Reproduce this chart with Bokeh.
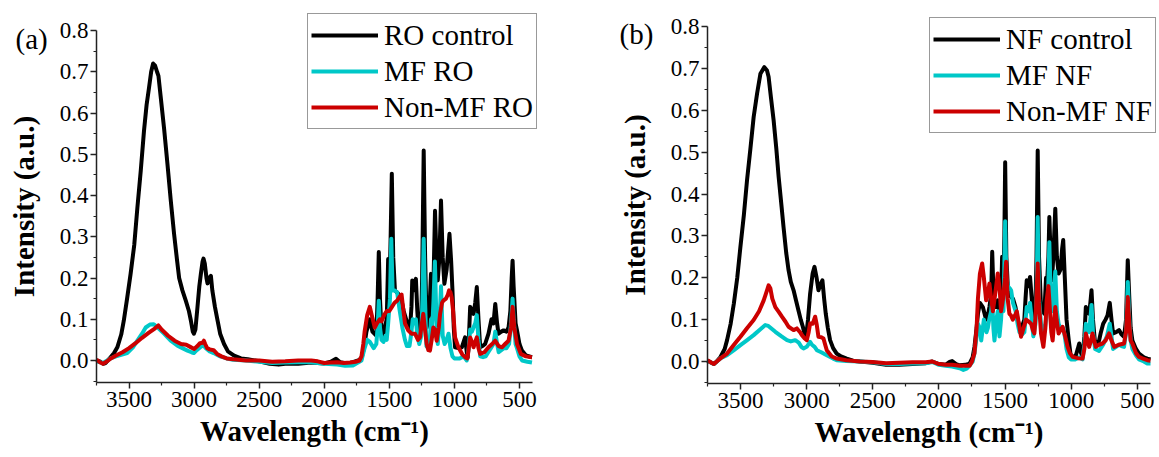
from bokeh.plotting import figure
from bokeh.layouts import row
from bokeh.models import Range1d, FixedTicker, PrintfTickFormatter, Legend, LegendItem, Label
from bokeh.embed import file_html
from bokeh.resources import INLINE

# ---------------- data: panel (a) ----------------
ro_control_wn = [3750, 3720, 3700, 3680, 3642, 3615, 3590, 3560, 3540, 3515, 3488, 3460, 3436, 3410, 3385, 3365, 3347, 3330, 3315, 3300, 3285, 3274, 3257, 3230, 3205, 3180, 3154, 3130, 3115, 3090, 3064, 3040, 3025, 3010, 3002, 2990, 2974, 2960, 2948, 2935, 2928, 2918, 2905, 2897, 2885, 2871, 2860, 2840, 2820, 2800, 2770, 2740, 2693, 2640, 2588, 2500, 2420, 2350, 2300, 2200, 2100, 2000, 1950, 1910, 1880, 1820, 1780, 1740, 1714, 1695, 1676, 1650, 1630, 1600, 1590, 1581, 1572, 1560, 1545, 1535, 1520, 1509, 1500, 1490, 1481, 1470, 1457, 1432, 1406, 1390, 1368, 1342, 1330, 1324, 1316, 1308, 1296, 1285, 1277, 1257, 1248, 1236, 1225, 1213, 1193, 1180, 1170, 1160, 1149, 1138, 1128, 1115, 1103, 1090, 1077, 1060, 1038, 1025, 1015, 1005, 995, 970, 943, 918, 905, 897, 888, 879, 866, 853, 840, 828, 815, 802, 785, 764, 738, 715, 700, 686, 672, 661, 640, 622, 600, 584, 570, 560, 553, 545, 530, 519, 500, 481, 450, 404]
ro_control_int = [0.000, -0.003, -0.008, -0.006, 0.008, 0.018, 0.032, 0.063, 0.097, 0.15, 0.21, 0.28, 0.37, 0.46, 0.557, 0.62, 0.66, 0.70, 0.72, 0.715, 0.70, 0.69, 0.64, 0.56, 0.477, 0.39, 0.307, 0.24, 0.20, 0.17, 0.145, 0.12, 0.097, 0.07, 0.065, 0.075, 0.13, 0.18, 0.21, 0.24, 0.247, 0.235, 0.20, 0.187, 0.20, 0.205, 0.17, 0.13, 0.097, 0.065, 0.04, 0.022, 0.012, 0.005, 0.003, -0.002, -0.008, -0.01, -0.008, -0.008, -0.005, -0.007, -0.003, 0.004, -0.004, -0.007, -0.004, 0.0, 0.005, 0.03, 0.07, 0.10, 0.07, 0.06, 0.15, 0.263, 0.15, 0.073, 0.06, 0.08, 0.10, 0.246, 0.15, 0.30, 0.453, 0.25, 0.17, 0.162, 0.145, 0.12, 0.097, 0.073, 0.13, 0.194, 0.17, 0.186, 0.198, 0.12, 0.08, 0.065, 0.20, 0.509, 0.25, 0.08, 0.113, 0.21, 0.12, 0.20, 0.363, 0.25, 0.194, 0.25, 0.388, 0.25, 0.186, 0.22, 0.307, 0.24, 0.17, 0.08, 0.032, 0.03, 0.032, 0.056, 0.02, 0.008, 0.06, 0.13, 0.12, 0.113, 0.14, 0.178, 0.10, 0.032, 0.035, 0.04, 0.065, 0.10, 0.09, 0.137, 0.09, 0.065, 0.07, 0.073, 0.07, 0.08, 0.12, 0.20, 0.242, 0.18, 0.09, 0.073, 0.04, 0.024, 0.012, 0.008]

mf_ro_wn = [3750, 3700, 3642, 3600, 3514, 3470, 3436, 3400, 3372, 3340, 3310, 3280, 3231, 3180, 3128, 3090, 3051, 3020, 3002, 2980, 2950, 2930, 2910, 2880, 2850, 2800, 2750, 2700, 2600, 2500, 2400, 2300, 2200, 2100, 2000, 1900, 1840, 1780, 1740, 1714, 1690, 1670, 1650, 1620, 1600, 1590, 1581, 1572, 1560, 1545, 1530, 1520, 1509, 1495, 1485, 1475, 1460, 1440, 1420, 1400, 1380, 1365, 1345, 1330, 1320, 1305, 1296, 1285, 1270, 1255, 1245, 1236, 1226, 1215, 1200, 1190, 1180, 1170, 1160, 1150, 1140, 1128, 1115, 1103, 1090, 1075, 1060, 1045, 1030, 1015, 1000, 960, 930, 905, 890, 879, 866, 853, 840, 828, 815, 802, 780, 760, 740, 720, 700, 686, 672, 660, 640, 620, 600, 580, 565, 553, 545, 530, 519, 500, 480, 440, 404]
mf_ro_int = [-0.002, -0.006, 0.005, 0.01, 0.018, 0.032, 0.048, 0.065, 0.08, 0.087, 0.088, 0.08, 0.065, 0.048, 0.036, 0.03, 0.024, 0.02, 0.018, 0.025, 0.033, 0.037, 0.03, 0.022, 0.018, 0.01, 0.005, 0.002, 0.0, -0.003, -0.006, -0.005, -0.004, -0.004, -0.008, -0.01, -0.013, -0.012, -0.005, 0.0, 0.03, 0.05, 0.045, 0.03, 0.04, 0.08, 0.145, 0.08, 0.05, 0.045, 0.06, 0.05, 0.09, 0.15, 0.295, 0.17, 0.17, 0.165, 0.12, 0.08, 0.05, 0.035, 0.035, 0.07, 0.10, 0.09, 0.10, 0.06, 0.04, 0.06, 0.15, 0.295, 0.15, 0.035, 0.03, 0.04, 0.10, 0.08, 0.15, 0.24, 0.12, 0.04, 0.09, 0.18, 0.06, 0.04, 0.05, 0.065, 0.03, 0.01, 0.005, 0.005, 0.01, 0.0, 0.03, 0.075, 0.07, 0.08, 0.09, 0.11, 0.05, 0.01, 0.008, 0.01, 0.02, 0.03, 0.04, 0.07, 0.04, 0.02, 0.025, 0.03, 0.03, 0.04, 0.09, 0.15, 0.10, 0.04, 0.03, 0.01, 0.0, -0.003, -0.005]

nonmf_ro_wn = [3750, 3720, 3700, 3670, 3640, 3600, 3550, 3500, 3450, 3400, 3350, 3300, 3275, 3250, 3200, 3150, 3100, 3060, 3030, 3000, 2975, 2955, 2935, 2925, 2915, 2900, 2880, 2850, 2820, 2790, 2750, 2700, 2600, 2500, 2400, 2300, 2200, 2100, 2050, 2000, 1950, 1900, 1850, 1800, 1760, 1730, 1714, 1700, 1690, 1670, 1650, 1635, 1612, 1595, 1573, 1560, 1540, 1520, 1500, 1480, 1460, 1440, 1420, 1406, 1395, 1380, 1355, 1330, 1303, 1280, 1265, 1250, 1239, 1228, 1213, 1200, 1188, 1175, 1162, 1150, 1136, 1120, 1110, 1095, 1085, 1065, 1050, 1041, 1030, 1021, 1010, 995, 969, 940, 918, 900, 890, 879, 865, 853, 840, 828, 815, 802, 770, 738, 710, 686, 660, 635, 610, 584, 565, 553, 540, 519, 490, 450, 404]
nonmf_ro_int = [0.002, -0.005, -0.008, -0.002, 0.005, 0.012, 0.02, 0.03, 0.042, 0.055, 0.067, 0.078, 0.085, 0.075, 0.06, 0.048, 0.04, 0.038, 0.033, 0.028, 0.035, 0.042, 0.043, 0.048, 0.04, 0.03, 0.027, 0.025, 0.015, 0.01, 0.005, 0.003, 0.0, 0.0, -0.003, -0.002, 0.0, 0.0, -0.002, -0.006, -0.005, -0.004, -0.006, -0.005, -0.003, 0.0, 0.01, 0.04, 0.07, 0.11, 0.13, 0.11, 0.08, 0.09, 0.10, 0.095, 0.11, 0.12, 0.12, 0.13, 0.14, 0.145, 0.155, 0.16, 0.13, 0.09, 0.073, 0.065, 0.065, 0.05, 0.056, 0.09, 0.113, 0.08, 0.04, 0.025, 0.024, 0.05, 0.08, 0.075, 0.048, 0.08, 0.113, 0.14, 0.145, 0.15, 0.16, 0.17, 0.165, 0.153, 0.12, 0.056, 0.032, 0.015, 0.008, 0.005, 0.03, 0.056, 0.045, 0.032, 0.045, 0.056, 0.03, 0.016, 0.02, 0.032, 0.04, 0.048, 0.035, 0.032, 0.04, 0.048, 0.08, 0.13, 0.08, 0.04, 0.016, 0.01, 0.008]

# ---------------- data: panel (b) ----------------
nf_control_wn = [3750, 3720, 3702, 3680, 3652, 3620, 3602, 3575, 3551, 3525, 3501, 3475, 3451, 3425, 3401, 3375, 3350, 3320, 3300, 3288, 3270, 3250, 3230, 3212, 3190, 3175, 3155, 3137, 3120, 3099, 3080, 3062, 3045, 3029, 3015, 3004, 2990, 2974, 2955, 2941, 2925, 2911, 2895, 2881, 2868, 2856, 2840, 2823, 2800, 2773, 2740, 2697, 2650, 2597, 2500, 2400, 2300, 2200, 2100, 2050, 2000, 1950, 1919, 1900, 1870, 1843, 1800, 1768, 1745, 1731, 1715, 1705, 1690, 1668, 1643, 1630, 1618, 1605, 1597, 1588, 1580, 1565, 1555, 1542, 1530, 1522, 1512, 1505, 1499, 1490, 1479, 1465, 1454, 1440, 1421, 1405, 1391, 1370, 1354, 1345, 1336, 1322, 1311, 1298, 1286, 1270, 1262, 1253, 1243, 1228, 1215, 1203, 1190, 1180, 1172, 1165, 1155, 1145, 1135, 1120, 1108, 1095, 1080, 1068, 1060, 1048, 1035, 1018, 1002, 985, 964, 950, 939, 925, 914, 900, 889, 875, 864, 855, 846, 835, 819, 800, 789, 775, 758, 740, 725, 708, 695, 683, 660, 638, 620, 600, 585, 572, 560, 550, 537, 510, 487, 450, 424, 400]
nf_control_int = [0.002, -0.003, -0.006, 0.0, 0.011, 0.03, 0.051, 0.09, 0.138, 0.20, 0.274, 0.35, 0.433, 0.51, 0.584, 0.64, 0.687, 0.703, 0.695, 0.68, 0.63, 0.576, 0.51, 0.441, 0.37, 0.321, 0.26, 0.218, 0.19, 0.17, 0.145, 0.122, 0.10, 0.083, 0.065, 0.059, 0.10, 0.162, 0.21, 0.226, 0.20, 0.17, 0.185, 0.194, 0.15, 0.115, 0.08, 0.051, 0.032, 0.019, 0.012, 0.007, 0.002, 0.0, -0.003, -0.008, -0.008, -0.006, -0.004, 0.0, -0.006, -0.008, -0.001, 0.001, -0.006, -0.009, -0.008, -0.005, 0.01, 0.035, 0.08, 0.114, 0.14, 0.13, 0.10, 0.11, 0.13, 0.16, 0.262, 0.17, 0.13, 0.13, 0.146, 0.114, 0.15, 0.25, 0.20, 0.30, 0.476, 0.25, 0.178, 0.16, 0.154, 0.15, 0.13, 0.10, 0.083, 0.085, 0.10, 0.15, 0.194, 0.18, 0.202, 0.15, 0.107, 0.13, 0.25, 0.504, 0.25, 0.13, 0.12, 0.114, 0.20, 0.20, 0.25, 0.345, 0.25, 0.194, 0.25, 0.365, 0.25, 0.21, 0.22, 0.27, 0.29, 0.20, 0.10, 0.05, 0.011, 0.01, 0.015, 0.03, 0.043, 0.02, 0.011, 0.06, 0.13, 0.12, 0.114, 0.14, 0.17, 0.10, 0.043, 0.045, 0.05, 0.07, 0.09, 0.10, 0.11, 0.14, 0.10, 0.067, 0.07, 0.075, 0.065, 0.059, 0.10, 0.242, 0.15, 0.08, 0.05, 0.03, 0.019, 0.01, 0.007, 0.005]

mf_nf_wn = [3750, 3720, 3702, 3680, 3650, 3602, 3550, 3501, 3450, 3401, 3350, 3313, 3290, 3260, 3237, 3190, 3149, 3120, 3087, 3060, 3040, 3024, 3000, 2974, 2960, 2940, 2923, 2890, 2848, 2800, 2773, 2700, 2597, 2500, 2400, 2300, 2200, 2100, 2050, 2000, 1950, 1900, 1843, 1815, 1790, 1768, 1745, 1731, 1715, 1705, 1690, 1680, 1668, 1660, 1640, 1630, 1620, 1605, 1597, 1588, 1580, 1565, 1555, 1542, 1530, 1522, 1512, 1499, 1490, 1479, 1465, 1454, 1440, 1420, 1405, 1391, 1370, 1354, 1345, 1336, 1322, 1311, 1298, 1286, 1270, 1262, 1253, 1243, 1228, 1215, 1203, 1190, 1175, 1165, 1155, 1145, 1135, 1120, 1108, 1095, 1080, 1060, 1048, 1035, 1018, 1002, 970, 939, 914, 900, 889, 875, 864, 855, 846, 835, 819, 789, 758, 730, 708, 695, 683, 660, 638, 620, 600, 585, 572, 560, 550, 537, 510, 487, 450, 424, 400]
mf_nf_int = [0.002, -0.003, -0.006, 0.0, 0.008, 0.015, 0.027, 0.039, 0.051, 0.063, 0.077, 0.087, 0.085, 0.077, 0.071, 0.06, 0.051, 0.048, 0.051, 0.045, 0.035, 0.031, 0.035, 0.047, 0.04, 0.035, 0.027, 0.022, 0.015, 0.007, 0.003, 0.001, 0.0, -0.002, -0.006, -0.006, -0.005, -0.004, -0.001, -0.008, -0.01, -0.012, -0.016, -0.02, -0.017, -0.01, 0.0, 0.02, 0.06, 0.09, 0.08, 0.05, 0.08, 0.10, 0.07, 0.08, 0.10, 0.12, 0.15, 0.08, 0.05, 0.10, 0.12, 0.06, 0.10, 0.15, 0.12, 0.335, 0.20, 0.18, 0.175, 0.17, 0.14, 0.12, 0.09, 0.07, 0.065, 0.07, 0.10, 0.13, 0.12, 0.14, 0.10, 0.06, 0.09, 0.15, 0.345, 0.15, 0.09, 0.075, 0.07, 0.10, 0.15, 0.285, 0.15, 0.12, 0.15, 0.215, 0.12, 0.09, 0.08, 0.08, 0.06, 0.03, 0.01, 0.005, 0.005, 0.01, 0.005, 0.04, 0.09, 0.08, 0.07, 0.10, 0.135, 0.07, 0.03, 0.025, 0.04, 0.06, 0.09, 0.06, 0.03, 0.035, 0.04, 0.037, 0.035, 0.07, 0.19, 0.10, 0.05, 0.03, 0.015, 0.005, 0.0, -0.005, -0.005]

nonmf_nf_wn = [3750, 3720, 3702, 3680, 3650, 3602, 3550, 3501, 3450, 3401, 3360, 3325, 3300, 3288, 3275, 3260, 3237, 3210, 3187, 3160, 3137, 3099, 3074, 3050, 3036, 3015, 2999, 2985, 2974, 2955, 2936, 2925, 2911, 2890, 2873, 2860, 2848, 2810, 2773, 2700, 2597, 2500, 2400, 2300, 2200, 2100, 2050, 2000, 1950, 1900, 1843, 1800, 1768, 1750, 1731, 1715, 1705, 1690, 1673, 1660, 1643, 1630, 1618, 1605, 1592, 1575, 1555, 1540, 1530, 1515, 1500, 1492, 1480, 1467, 1455, 1441, 1425, 1411, 1395, 1379, 1360, 1341, 1320, 1303, 1290, 1278, 1265, 1253, 1243, 1228, 1210, 1195, 1185, 1172, 1160, 1150, 1140, 1130, 1120, 1110, 1095, 1080, 1065, 1045, 1027, 1010, 989, 950, 914, 900, 889, 875, 864, 850, 839, 826, 814, 790, 763, 740, 713, 695, 675, 640, 600, 585, 572, 560, 550, 537, 510, 487, 450, 424, 400]
nonmf_nf_int = [0.003, -0.003, -0.006, 0.0, 0.008, 0.019, 0.04, 0.059, 0.08, 0.099, 0.12, 0.146, 0.17, 0.182, 0.175, 0.15, 0.13, 0.118, 0.107, 0.095, 0.083, 0.075, 0.079, 0.07, 0.063, 0.055, 0.051, 0.07, 0.091, 0.09, 0.107, 0.09, 0.059, 0.058, 0.055, 0.04, 0.027, 0.012, 0.007, 0.003, 0.0, -0.001, -0.004, -0.003, -0.002, -0.002, 0.0, -0.006, -0.008, -0.008, -0.01, -0.01, -0.01, 0.0, 0.02, 0.08, 0.15, 0.21, 0.234, 0.20, 0.146, 0.16, 0.186, 0.15, 0.12, 0.16, 0.21, 0.17, 0.12, 0.15, 0.20, 0.238, 0.15, 0.114, 0.11, 0.10, 0.11, 0.12, 0.09, 0.059, 0.08, 0.10, 0.095, 0.09, 0.075, 0.067, 0.13, 0.234, 0.14, 0.067, 0.035, 0.08, 0.146, 0.18, 0.12, 0.07, 0.05, 0.09, 0.13, 0.10, 0.067, 0.075, 0.083, 0.06, 0.035, 0.02, 0.011, 0.008, 0.007, 0.03, 0.067, 0.05, 0.035, 0.05, 0.067, 0.05, 0.035, 0.04, 0.043, 0.05, 0.067, 0.05, 0.035, 0.04, 0.043, 0.07, 0.154, 0.09, 0.05, 0.043, 0.02, 0.011, 0.006, 0.003, 0.002]

labels_a = ["RO control", "MF RO", "Non-MF RO"]
labels_b = ["NF control", "MF NF", "Non-MF NF"]
x_ticks = [500, 1000, 1500, 2000, 2500, 3000, 3500]
x_minor = [750, 1250, 1750, 2250, 2750, 3250, 3750]
y_ticks = [0.0, 0.1, 0.2, 0.3, 0.4, 0.5, 0.6, 0.7, 0.8]
y_minor = [-0.05, 0.05, 0.15, 0.25, 0.35, 0.45, 0.55, 0.65, 0.75]

COLORS = ["#000000", "#00C8C8", "#CC0000"]
FONT = "Liberation Serif"
H = 457


def panel(width, frame_left, frame_right, y08, y00, axis_bottom, series, labels, leg_loc, tag, tag_xy):
    # frame covers the whole figure; axes are drawn at fixed data locations
    xs = (3750 - 400) / (frame_right - frame_left)          # data units per px
    x_start = 3750 + frame_left * xs
    x_end = 400 - (width - frame_right) * xs
    ys = 0.8 / (y00 - y08)                                  # data units per px
    y_top = 0.8 + y08 * ys
    y_bot = -(H - y00) * ys
    y_axis_low = -(axis_bottom - y00) * ys

    p = figure(width=width, height=H, output_backend="svg", toolbar_location=None,
               x_range=Range1d(x_start, x_end), y_range=Range1d(y_bot, y_top),
               min_border=0)
    p.outline_line_color = None
    p.xgrid.visible = False
    p.ygrid.visible = False
    rends = []
    for (wn, iv), c in zip(series, COLORS):
        r = p.line(wn, iv, line_color=c, line_width=4, line_join="round")
        rends.append(r)
    p.xaxis.ticker = FixedTicker(ticks=x_ticks, minor_ticks=x_minor)
    p.yaxis.ticker = FixedTicker(ticks=y_ticks, minor_ticks=y_minor)
    p.yaxis.formatter = PrintfTickFormatter(format="%.1f")
    p.xaxis.fixed_location = y_axis_low
    p.yaxis.fixed_location = 3750
    p.xaxis.bounds = (400, 3750)
    p.yaxis.bounds = (y_axis_low, 0.8)
    for ax in (p.xaxis, p.yaxis):
        ax.axis_line_color = "#222222"
        ax.axis_line_width = 1.5
        ax.major_tick_line_color = "#222222"
        ax.minor_tick_line_color = "#222222"
        ax.major_tick_line_width = 1.5
        ax.minor_tick_line_width = 1.2
        ax.major_tick_out = 6
        ax.major_tick_in = 0
        ax.minor_tick_out = 3
        ax.minor_tick_in = 0
        ax.major_label_text_font = FONT
        ax.major_label_text_font_size = "23px"
        ax.major_label_text_color = "#000000"
        ax.axis_label_text_font = FONT
        ax.axis_label_text_font_size = "29px"
        ax.axis_label_text_font_style = "bold"
        ax.axis_label_text_color = "#000000"
    p.xaxis.axis_label = "Wavelength (cm\u207b\u00b9)"
    p.yaxis.axis_label = "Intensity (a.u.)"
    p.xaxis.major_label_standoff = 3
    p.xaxis.axis_label_standoff = 5
    p.yaxis.major_label_standoff = 2
    p.yaxis.axis_label_standoff = 17

    leg = Legend(items=[LegendItem(label=l, renderers=[r]) for l, r in zip(labels, rends)],
                 location=leg_loc)
    leg.label_text_font = FONT
    leg.label_text_font_size = "29px"
    leg.label_text_color = "#000000"
    leg.glyph_width = 67
    leg.glyph_height = 36
    leg.label_height = 36
    leg.label_standoff = 6
    leg.padding = 3
    leg.spacing = 0
    leg.margin = 0
    leg.border_line_color = "#333333"
    leg.border_line_width = 1
    leg.background_fill_alpha = 1.0
    p.add_layout(leg)

    lab = Label(x=tag_xy[0], y=tag_xy[1], x_units="screen", y_units="screen", text=tag,
                text_font=FONT, text_font_size="29px", text_color="#000000",
                text_baseline="alphabetic", text_align="left")
    p.add_layout(lab)
    return p


# left panel: picture x 0..574 ; right panel: picture x 574..1159 (local px coordinates below)
p1 = panel(574, 96, 532, 30, 360, 382,
           [(ro_control_wn, ro_control_int), (mf_ro_wn, mf_ro_int), (nonmf_ro_wn, nonmf_ro_int)],
           labels_a, (307, 328), "(a)", (15, 419))
p2 = panel(585, 133, 576, 26, 361, 383,
           [(nf_control_wn, nf_control_int), (mf_nf_wn, mf_nf_int), (nonmf_nf_wn, nonmf_nf_int)],
           labels_b, (355, 324), "(b)", (45, 424))

layout = row(p1, p2)
open("out.html", "w").write(file_html(layout, INLINE))
